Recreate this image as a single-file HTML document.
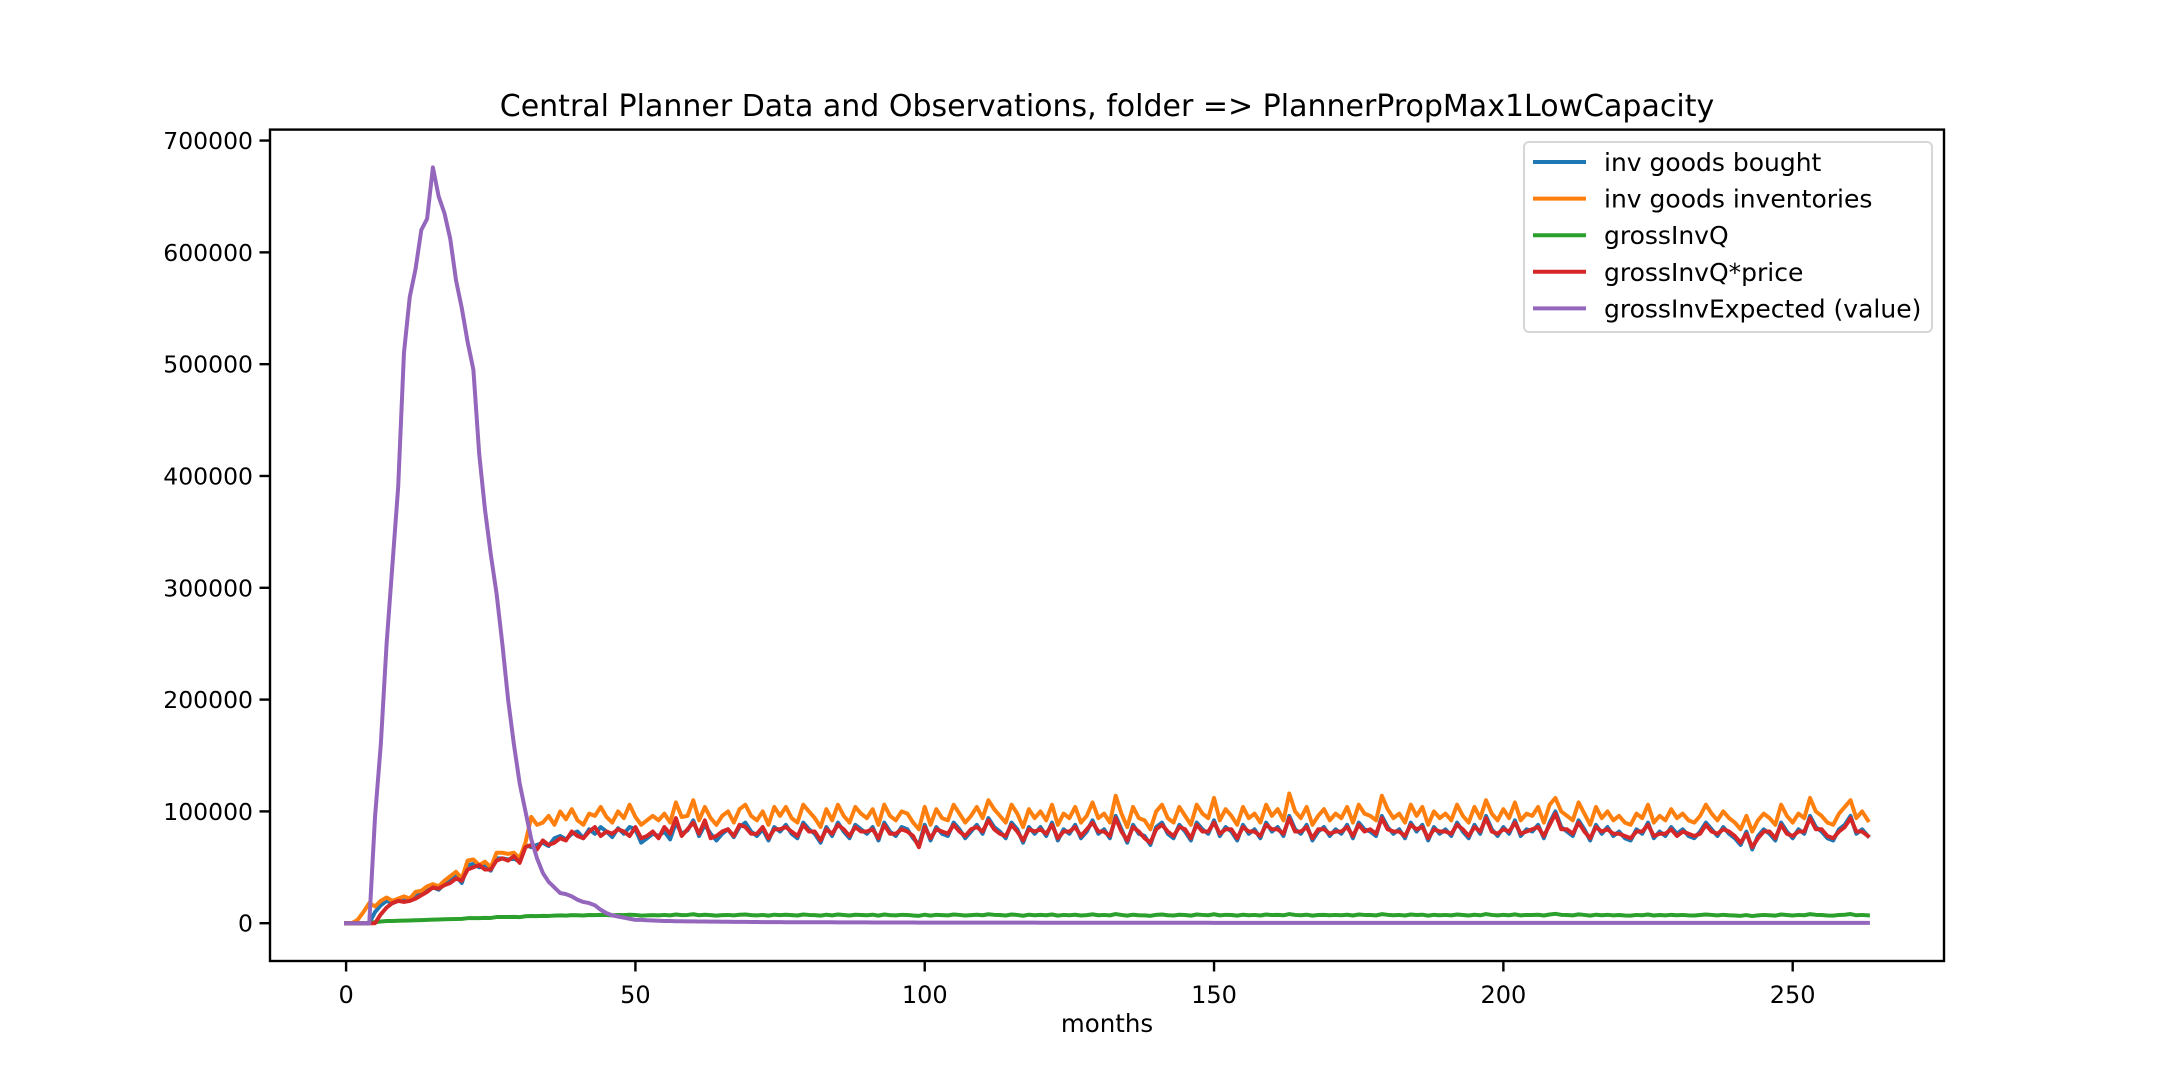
<!DOCTYPE html>
<html><head><meta charset="utf-8"><style>
html,body{margin:0;padding:0;background:#fff;}
svg{display:block;font-family:"DejaVu Sans","Liberation Sans",sans-serif;}
</style></head><body>
<svg id="chart" width="2160" height="1080" xmlns="http://www.w3.org/2000/svg"></svg>
<script>
const months = Array.from({length:264},(_,i)=>i);
const boughtK = [0,0,0,0,0,10,16,20,18,20,21,20,25,26,30,32,30,35,38,42,36,52,53,50,51,47,58,58,57,58,55,70,68,70,72,69,76,78,75,80,82,76,84,80,86,82,77,85,80,86,84,72,76,80,78,82,75,90,80,83,92,78,88,80,74,80,84,77,86,90,82,78,84,74,86,82,88,80,76,90,84,80,72,86,78,90,82,76,88,84,80,86,74,90,82,78,86,84,76,70,88,74,86,80,78,90,84,76,82,88,80,94,86,82,76,90,84,72,86,80,86,78,90,74,84,80,88,76,82,92,80,84,76,96,84,72,88,80,78,70,86,90,80,76,88,82,74,90,84,80,92,78,86,82,74,88,80,84,76,90,82,86,78,96,84,80,88,74,82,86,78,84,80,88,76,90,84,82,78,96,86,80,84,76,90,82,88,74,86,80,84,78,90,82,76,88,80,96,84,78,86,80,92,78,84,82,88,76,90,100,86,82,78,92,84,74,88,80,86,78,82,76,74,84,80,90,76,82,78,86,80,84,78,76,82,90,84,78,86,80,76,70,82,66,78,84,80,74,90,82,76,84,80,96,86,82,76,74,84,88,96,80,84,78];
const inventoriesK = [0,0,3,10,18,15,20,23,20,22,24,22,28,29,33,35,33,38,42,46,40,56,57,52,55,50,63,63,62,63,58,72,95,88,90,96,88,100,93,102,92,88,98,96,104,95,90,100,94,106,95,88,92,96,92,98,90,108,95,96,110,92,104,94,88,96,100,90,102,106,96,92,100,88,104,96,104,94,90,106,100,94,86,102,92,106,96,90,104,98,94,102,88,106,96,92,100,98,90,84,104,88,102,94,92,106,98,90,96,104,94,110,102,96,90,106,98,86,102,94,100,92,106,88,98,94,104,90,96,108,94,98,90,114,98,86,104,94,92,84,100,106,94,90,104,96,88,106,98,94,112,92,102,96,88,104,94,98,90,106,96,102,92,116,100,94,104,88,96,102,92,98,94,104,90,106,98,96,92,114,102,94,98,90,106,96,104,88,100,94,98,92,106,96,90,104,94,110,98,92,102,94,108,92,98,96,104,90,106,112,100,96,92,108,98,88,104,94,100,92,96,90,88,98,94,106,90,96,92,102,94,98,92,90,96,106,98,92,100,94,90,84,96,82,92,98,94,88,106,96,90,98,94,112,100,96,90,88,98,104,110,94,100,92];
const grossInvQK = [0,0,0,0,0,1,1.5,2,2,2.2,2.3,2.4,2.6,2.8,3,3.2,3.3,3.5,3.6,3.8,3.9,4.5,4.6,4.5,4.8,4.7,5.5,5.6,5.5,5.7,5.4,6.2,6.4,6.3,6.6,6.5,6.8,7,6.8,7.2,7.1,6.9,7.3,7.2,7.5,7.3,7,7.4,7.2,7.6,7.4,6.8,7,7.2,7,7.4,7,7.8,7.2,7.4,8,7.1,7.6,7.2,6.8,7.2,7.4,7,7.6,7.8,7.2,7,7.4,6.8,7.6,7.2,7.6,7.2,6.9,7.8,7.4,7.2,6.8,7.6,7,7.8,7.3,6.9,7.6,7.4,7.1,7.6,6.8,7.8,7.2,7,7.5,7.4,6.9,6.6,7.6,6.8,7.5,7.2,7,7.8,7.4,6.9,7.2,7.6,7.1,8,7.5,7.3,6.9,7.8,7.4,6.7,7.6,7.1,7.5,7.1,7.8,6.8,7.4,7.1,7.6,6.9,7.2,7.9,7.1,7.4,7,8.2,7.4,6.8,7.6,7.1,7,6.6,7.5,7.8,7.1,6.9,7.6,7.3,6.8,7.8,7.4,7.1,8,7,7.5,7.3,6.8,7.6,7.1,7.4,6.9,7.8,7.3,7.5,7.1,8.2,7.4,7.1,7.6,6.8,7.3,7.5,7.1,7.4,7.1,7.6,6.9,7.8,7.4,7.3,7,8.1,7.5,7.1,7.4,6.9,7.8,7.3,7.6,6.8,7.5,7.1,7.4,7,7.8,7.3,6.9,7.6,7.1,8.2,7.4,7,7.5,7.1,7.9,7,7.4,7.3,7.6,6.9,7.8,8.4,7.5,7.3,7,7.9,7.4,6.8,7.6,7.1,7.5,7,7.3,6.9,6.8,7.4,7.1,7.8,6.9,7.3,7,7.5,7.1,7.4,7,6.9,7.3,7.8,7.4,7,7.5,7.1,6.9,6.6,7.3,6.4,7,7.4,7.1,6.8,7.8,7.3,6.9,7.4,7.1,8.1,7.5,7.3,6.9,6.8,7.4,7.6,8.2,7.1,7.4,7];
const invQPriceK = [0,0,0,0,0,0,8,14,18,20,19,20,22,25,28,32,31,34,36,40,38,48,50,52,48,48,56,58,56,60,54,68,70,66,74,70,72,76,74,82,78,76,82,86,78,82,80,84,82,78,86,76,78,82,76,86,80,94,78,84,90,80,92,76,78,82,84,78,88,86,80,80,86,76,84,84,86,82,78,88,82,82,74,84,80,88,84,78,86,82,82,84,76,88,80,80,84,82,78,68,86,76,84,82,80,88,82,78,84,86,82,92,84,80,78,88,82,74,84,82,84,80,88,76,82,82,86,78,84,90,82,82,78,94,82,74,86,82,76,72,84,88,82,78,86,84,76,88,82,82,90,80,84,84,76,86,82,82,78,88,84,84,80,94,82,82,86,76,84,84,80,82,82,86,78,88,82,84,80,94,84,82,82,78,88,84,86,76,84,82,82,80,88,84,78,86,82,94,82,80,84,82,90,80,82,84,86,78,88,98,84,84,80,90,82,76,86,82,84,80,80,78,76,82,82,88,78,80,80,84,78,82,80,78,80,88,82,80,84,82,78,72,80,68,76,82,82,76,88,80,78,82,82,94,84,84,78,76,82,86,94,82,82,78];
const expectedK = [0,0,0,0,0,95,160,250,320,390,510,560,585,620,630,676,650,635,612,575,550,520,495,420,370,330,295,250,200,160,125,100,75,58,45,37,32,27,26,24,21,19,18,16,12,9,7,6,5,4,3,3,2.6,2.4,2.2,2,2,1.8,1.8,1.6,1.6,1.5,1.5,1.4,1.4,1.3,1.3,1.2,1.2,1.2,1.1,1.1,1,1,1,1,0.9,0.9,0.9,0.9,0.8,0.8,0.8,0.8,0.8,0.7,0.7,0.7,0.7,0.7,0.7,0.6,0.6,0.6,0.6,0.6,0.6,0.6,0.6,0.5,0.5,0.5,0.5,0.5,0.5,0.5,0.5,0.5,0.5,0.5,0.5,0.5,0.5,0.5,0.5,0.5,0.5,0.5,0.5,0.5,0.4,0.4,0.4,0.4,0.4,0.4,0.4,0.4,0.4,0.4,0.4,0.4,0.4,0.4,0.4,0.4,0.4,0.4,0.4,0.4,0.4,0.4,0.4,0.4,0.4,0.4,0.4,0.4,0.4,0.4,0.3,0.3,0.3,0.3,0.3,0.3,0.3,0.3,0.3,0.3,0.3,0.3,0.3,0.3,0.3,0.3,0.3,0.3,0.3,0.3,0.3,0.3,0.3,0.3,0.3,0.3,0.3,0.3,0.3,0.3,0.3,0.3,0.3,0.3,0.3,0.3,0.3,0.3,0.3,0.3,0.3,0.3,0.3,0.3,0.3,0.3,0.3,0.3,0.3,0.3,0.3,0.3,0.3,0.3,0.3,0.3,0.3,0.3,0.3,0.3,0.3,0.3,0.3,0.3,0.3,0.3,0.3,0.3,0.3,0.3,0.3,0.3,0.3,0.3,0.3,0.3,0.3,0.3,0.3,0.3,0.3,0.3,0.3,0.3,0.3,0.3,0.3,0.3,0.3,0.3,0.3,0.3,0.3,0.3,0.3,0.3,0.3,0.3,0.3,0.3,0.3,0.3,0.3,0.3,0.3,0.3,0.3,0.3,0.3,0.3,0.3,0.3,0.3,0.3,0.3,0.3,0.3,0.3,0.3,0.3,0.3,0.3,0.3,0.3,0.3,0.3];
const seriesNames = ["inv goods bought","inv goods inventories","grossInvQ","grossInvQ*price","grossInvExpected (value)"];
const seriesColors = ["#1f77b4","#ff7f0e","#2ca02c","#d62728","#9467bd"];
const xTicks = [0,50,100,150,200,250];
const yTicks = [0,100000,200000,300000,400000,500000,600000,700000];

const NS="http://www.w3.org/2000/svg";
const svg=document.getElementById('chart');
const L=270,R=1944,T=129.6,B=961;
const n=months.length;
const series=[boughtK,inventoriesK,grossInvQK,invQPriceK,expectedK].map(a=>a.slice(0,n).map(v=>v*1000));
const xmin=0,xmax=months[n-1],xm=(xmax-xmin)*0.05;
let allMax=0,allMin=0;series.forEach(s=>s.forEach(v=>{if(v>allMax)allMax=v;if(v<allMin)allMin=v;}));
const ym=(allMax-allMin)*0.05;
const X=v=>L+(v-(xmin-xm))/((xmax+xm)-(xmin-xm))*(R-L);
const Y=v=>B-(v-(allMin-ym))/((allMax+ym)-(allMin-ym))*(B-T);
function mk(tag,attrs,parent){const e=document.createElementNS(NS,tag);for(const k in attrs)e.setAttribute(k,attrs[k]);(parent||svg).appendChild(e);return e;}

let t=mk('text',{x:(L+R)/2,y:116,'text-anchor':'middle','font-size':'30'});
t.textContent="Central Planner Data and Observations, folder => PlannerPropMax1LowCapacity";



const plot=mk('g',{});


series.forEach((s,si)=>{
  const d=s.map((v,i)=>(i?'L':'M')+X(months[i]).toFixed(2)+' '+Y(v).toFixed(2)).join(' ');
  const p=mk('path',{d:d,fill:'none',stroke:seriesColors[si],'stroke-width':'4','stroke-linejoin':'round','stroke-linecap':'square'},plot);
  
  
});

const frame=mk('rect',{x:L,y:T,width:R-L,height:B-T,fill:'none',stroke:'#000','stroke-width':'2.4'});



xTicks.forEach(v=>{
  const x=X(v);
  const tk=mk('line',{x1:x,x2:x,y1:B,y2:B+10.5,stroke:'#000','stroke-width':'2.4'});
  
  
  const lb=mk('text',{x:x,y:B+42,'text-anchor':'middle','font-size':'24'});
  lb.textContent=String(v);
  
  
});
yTicks.forEach(v=>{
  const y=Y(v);
  const tk=mk('line',{x1:L-10.5,x2:L,y1:y,y2:y,stroke:'#000','stroke-width':'2.4'});
  
  
  const lb=mk('text',{x:L-17,y:y+8.5,'text-anchor':'end','font-size':'23.5'});
  lb.textContent=String(v);
  
  
});
const xl=mk('text',{x:(L+R)/2,y:1032,'text-anchor':'middle','font-size':'24.5'});
xl.textContent="months";



const lg=mk('g',{});


const lbx=mk('rect',{x:1524,y:142,width:408,height:190,rx:5,fill:'#fff','fill-opacity':'0.8',stroke:'#d6d6d6','stroke-width':'2'},lg);


seriesNames.forEach((nm,i)=>{
  const y=162+i*36.6;
  const ln=mk('line',{x1:1533,x2:1586,y1:y,y2:y,stroke:seriesColors[i],'stroke-width':'4'},lg);
  
  
  const tx=mk('text',{x:1604,y:y+9,'font-size':'25'},lg);
  tx.textContent=nm;
  
  
});
</script>
</body></html>
